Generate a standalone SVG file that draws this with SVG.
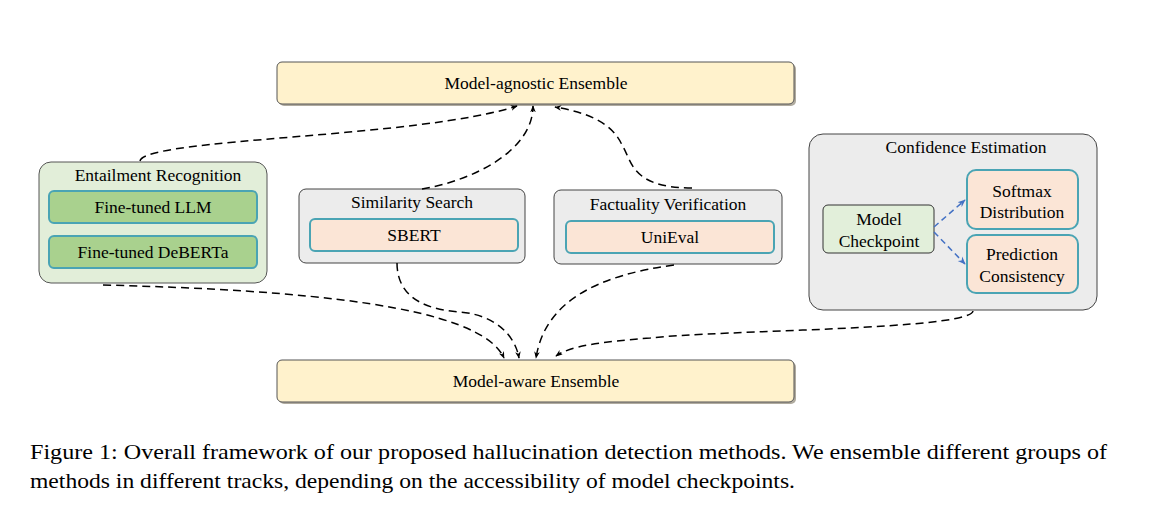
<svg xmlns="http://www.w3.org/2000/svg" width="1172" height="520" viewBox="0 0 1172 520">
<defs>
<style>
text{font-family:"Liberation Serif","Times New Roman",serif;fill:#000;}
.t{font-size:17.5px;text-anchor:middle;}
.cap{font-size:22px;}
.ens{fill:#fff2cc;stroke:#555;stroke-width:1;}
.shadow{fill:#b0ab9f;}
.grp{fill:#ececec;stroke:#444;stroke-width:1;}
.grn{fill:#e2eed9;stroke:#555;stroke-width:1;}
.dg{fill:#a9d18e;stroke:#4aa4b4;stroke-width:2;}
.pk{fill:#fbe5d6;stroke:#4aa4b4;stroke-width:2;}
.mc{fill:#e2efda;stroke:#333;stroke-width:1;}
.c{fill:none;stroke:#000;stroke-width:1.5;stroke-dasharray:8 5;}
.b{fill:none;stroke:#4472c4;stroke-width:1.5;stroke-dasharray:6 4;}
</style>
<marker id="ah" viewBox="0 0 10 10" refX="9" refY="5" markerWidth="7" markerHeight="7" orient="auto" markerUnits="userSpaceOnUse"><path d="M0,1 L10,5 L0,9 L3,5 Z" fill="#000"/></marker>
<marker id="ahb" viewBox="0 0 10 10" refX="9" refY="5" markerWidth="8" markerHeight="8" orient="auto" markerUnits="userSpaceOnUse"><path d="M0,1 L10,5 L0,9 L3,5 Z" fill="#4472c4"/></marker>
</defs>
<rect width="1172" height="520" fill="#fff"/>

<g id="model-agnostic">
<rect class="shadow" x="279" y="64" width="517" height="42" rx="5"/>
<rect class="ens" x="277" y="62" width="517" height="42" rx="5"/>
<text class="t" x="536" y="89">Model-agnostic Ensemble</text>
</g>

<g id="model-aware">
<rect class="shadow" x="279" y="362" width="517" height="42" rx="5"/>
<rect class="ens" x="277" y="360" width="517" height="42" rx="5"/>
<text class="t" x="536" y="387">Model-aware Ensemble</text>
</g>

<g id="entailment">
<rect class="grn" x="39" y="162" width="228" height="121" rx="12"/>
<text class="t" x="158" y="181">Entailment Recognition</text>
<rect class="dg" x="49" y="191" width="208" height="32" rx="5"/>
<text class="t" x="153" y="213">Fine-tuned LLM</text>
<rect class="dg" x="49" y="236" width="208" height="32" rx="5"/>
<text class="t" x="153" y="258">Fine-tuned DeBERTa</text>
</g>

<g id="similarity">
<rect class="grp" x="299" y="189" width="226" height="74" rx="7"/>
<text class="t" x="412" y="208">Similarity Search</text>
<rect class="pk" x="310" y="219" width="208" height="32" rx="5"/>
<text class="t" x="414" y="241">SBERT</text>
</g>

<g id="factuality">
<rect class="grp" x="554" y="190" width="228" height="74" rx="7"/>
<text class="t" x="668" y="210">Factuality Verification</text>
<rect class="pk" x="566" y="221" width="208" height="32" rx="5"/>
<text class="t" x="670" y="243">UniEval</text>
</g>

<g id="confidence">
<rect class="grp" x="809" y="134" width="288" height="176" rx="14"/>
<text class="t" x="966" y="153">Confidence Estimation</text>
<g id="checkpoint">
<rect class="mc" x="823" y="205" width="111" height="48" rx="5"/>
<text class="t" x="879" y="225">Model</text>
<text class="t" x="879" y="247">Checkpoint</text>
</g>
<g id="softmax">
<rect class="pk" x="967" y="170" width="111" height="59" rx="9"/>
<text class="t" x="1022" y="197">Softmax</text>
<text class="t" x="1022" y="218">Distribution</text>
</g>
<g id="prediction">
<rect class="pk" x="967" y="235" width="111" height="58" rx="9"/>
<text class="t" x="1022" y="260">Prediction</text>
<text class="t" x="1022" y="282">Consistency</text>
</g>
</g>

<g id="connectors">
<path class="b" d="M934,227 L965,200" marker-end="url(#ahb)"/>
<path class="b" d="M934,232 L965,264" marker-end="url(#ahb)"/>
<path class="c" d="M140,161 C145,138 420,138 517,106" marker-end="url(#ah)"/>
<path class="c" d="M422,189 C475,180 533,150 533,106" marker-end="url(#ah)"/>
<path class="c" d="M692,188 C630,188 632,160 622,145 C612,122 585,112 555,107" marker-end="url(#ah)"/>
<path class="c" d="M103,285 C300,290 480,305 504,358" marker-end="url(#ah)"/>
<path class="c" d="M397,263 C397,300 430,310 460,312 C495,315 515,335 519,358" marker-end="url(#ah)"/>
<path class="c" d="M674,265 C600,275 545,300 536,358" marker-end="url(#ah)"/>
<path class="c" d="M973,311 C970,330 720,330 650,338 C600,342 570,346 556,356" marker-end="url(#ah)"/>
</g>

<g id="caption">
<text class="cap" x="30" y="459" textLength="1077" lengthAdjust="spacingAndGlyphs">Figure 1: Overall framework of our proposed hallucination detection methods. We ensemble different groups of</text>
<text class="cap" x="30" y="488" textLength="765" lengthAdjust="spacingAndGlyphs">methods in different tracks, depending on the accessibility of model checkpoints.</text>
</g>
</svg>
